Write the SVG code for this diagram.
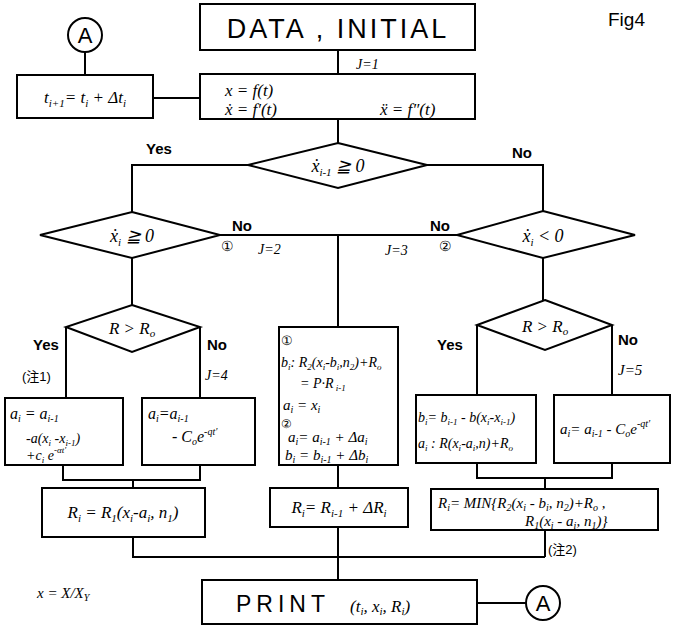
<svg xmlns="http://www.w3.org/2000/svg" width="678" height="629" viewBox="0 0 678 629">
<style>
.b{fill:#fff;stroke:#000;stroke-width:2}
.c{fill:none;stroke:#000;stroke-width:2}
.t{font-family:"Liberation Sans",Arial,sans-serif;fill:#000}
.m{font-family:"Liberation Serif","Times New Roman",serif;font-style:italic;fill:#000}
.j{font-family:"Liberation Sans","Noto Sans CJK JP",sans-serif;fill:#000}
</style>
<rect width="678" height="629" fill="#fff"/>
<g id="connectors">
<path class="c" d="M338 50V74M153 98H200M85 52V75M338 119V143M248 165H132V212M427 165H543V211M220 235H457M338 235V327M132 258V305M543 258V300M66 327V398M200 327V398M63 465V480H200V465M133 480V488M133 537V557H545M338 465V488M338 527V580M477 325V395M612 325V395M477 463V478H612V463M545 478V489M545 530V557M477 603H526"/>
</g>
<g id="data"><rect class="b" x="200" y="4" width="275" height="46"/><text class="t" x="338" y="38" font-size="27" text-anchor="middle" letter-spacing="3">DATA , INITIAL</text></g>
<text class="m" x="356" y="69" font-size="14">J=1</text>
<g id="calc"><rect class="b" x="200" y="74" width="275" height="45"/>
<text class="m" x="225" y="96" font-size="17">x = f(t)</text>
<text class="m" x="225" y="115" font-size="17">ẋ = f′(t)</text>
<text class="m" x="380" y="115" font-size="17">ẍ = f″(t)</text></g>
<g id="step"><rect class="b" x="17" y="75" width="136" height="43"/><text class="m" x="85" y="103" font-size="17" text-anchor="middle">t<tspan font-size="11" dy="4">i+1</tspan><tspan dy="-4">= t</tspan><tspan font-size="11" dy="4">i</tspan><tspan dy="-4"> + Δt</tspan><tspan font-size="11" dy="4">i</tspan></text></g>
<g id="circleA1"><circle class="b" cx="85" cy="35" r="17"/><text class="t" x="85" y="43" font-size="22" text-anchor="middle">A</text></g>
<g id="d1"><polygon class="b" points="338,143 427,165 338,188 248,165"/><text class="m" x="338" y="172" font-size="18" text-anchor="middle">ẋ<tspan font-size="11" dy="4">i-1</tspan><tspan dy="-4"> ≧ 0</tspan></text></g>
<text class="t" x="146" y="154" font-size="15" font-weight="bold">Yes</text>
<text class="t" x="512" y="158" font-size="15" font-weight="bold">No</text>
<g id="d2"><polygon class="b" points="132,212 220,235 132,258 40,235"/><text class="m" x="132" y="242" font-size="18" text-anchor="middle">ẋ<tspan font-size="11" dy="4">i</tspan><tspan dy="-4"> ≧ 0</tspan></text></g>
<text class="t" x="232" y="231" font-size="15" font-weight="bold">No</text>
<text class="t" x="221" y="251" font-size="14">①</text>
<text class="m" x="258" y="254" font-size="14">J=2</text>
<text class="m" x="385" y="255" font-size="14">J=3</text>
<text class="t" x="439" y="251" font-size="14">②</text>
<text class="t" x="430" y="231" font-size="15" font-weight="bold">No</text>
<g id="d3"><polygon class="b" points="543,211 635,235 543,258 457,235"/><text class="m" x="543" y="242" font-size="18" text-anchor="middle">ẋ<tspan font-size="11" dy="4">i</tspan><tspan dy="-4"> &lt; 0</tspan></text></g>
<g id="d4"><polygon class="b" points="132,305 200,327 132,352 66,327"/><text class="m" x="132" y="334" font-size="17" text-anchor="middle">R &gt; R<tspan font-size="11" dy="3">o</tspan></text></g>
<text class="t" x="33" y="350" font-size="15" font-weight="bold">Yes</text>
<text class="j" x="22" y="381" font-size="13">(注1)</text>
<text class="t" x="207" y="350" font-size="15" font-weight="bold">No</text>
<text class="m" x="205" y="380" font-size="14">J=4</text>
<g id="b4L"><rect class="b" x="5" y="398" width="118" height="67"/>
<text class="m" x="10" y="419" font-size="16">a<tspan font-size="10" dy="3">i</tspan><tspan dy="-3"> = a</tspan><tspan font-size="10" dy="3">i-1</tspan></text>
<text class="m" x="26" y="443" font-size="14">-a(x<tspan font-size="9" dy="3">i</tspan><tspan dy="-3"> -x</tspan><tspan font-size="9" dy="3">i-1</tspan><tspan dy="-3">)</tspan></text>
<text class="m" x="26" y="460" font-size="14">+c<tspan font-size="9" dy="3">i</tspan><tspan dy="-3"> e</tspan><tspan font-size="9" dy="-7">-αt′</tspan></text></g>
<g id="b4R"><rect class="b" x="142" y="398" width="113" height="67"/>
<text class="m" x="148" y="419" font-size="16">a<tspan font-size="10" dy="3">i</tspan><tspan dy="-3">=a</tspan><tspan font-size="10" dy="3">i-1</tspan></text>
<text class="m" x="172" y="442" font-size="16">- C<tspan font-size="10" dy="3">o</tspan><tspan dy="-3">e</tspan><tspan font-size="10" dy="-7">-qt′</tspan></text></g>
<g id="r1"><rect class="b" x="42" y="488" width="163" height="49"/><text class="m" x="123" y="518" font-size="17" text-anchor="middle">R<tspan font-size="11" dy="4">i</tspan><tspan dy="-4"> =  R</tspan><tspan font-size="11" dy="4">1</tspan><tspan dy="-4">(x</tspan><tspan font-size="11" dy="4">i</tspan><tspan dy="-4">-a</tspan><tspan font-size="11" dy="4">i</tspan><tspan dy="-4">, n</tspan><tspan font-size="11" dy="4">1</tspan><tspan dy="-4">)</tspan></text></g>
<g id="mid"><rect class="b" x="279" y="327" width="119" height="138"/>
<text class="t" x="281" y="345" font-size="13">①</text>
<text class="m" x="281" y="367" font-size="14">b<tspan font-size="9" dy="3">i</tspan><tspan dy="-3">: R</tspan><tspan font-size="9" dy="3">2</tspan><tspan dy="-3">(x</tspan><tspan font-size="9" dy="3">i</tspan><tspan dy="-3">-b</tspan><tspan font-size="9" dy="3">i</tspan><tspan dy="-3">,n</tspan><tspan font-size="9" dy="3">2</tspan><tspan dy="-3">)+R</tspan><tspan font-size="9" dy="3">o</tspan></text>
<text class="m" x="300" y="388" font-size="14">= P·R<tspan font-size="9" dy="3"> i-1</tspan></text>
<text class="m" x="283" y="410" font-size="15">a<tspan font-size="10" dy="3">i</tspan><tspan dy="-3"> = x</tspan><tspan font-size="10" dy="3">i</tspan></text>
<text class="t" x="281" y="428" font-size="12">②</text>
<text class="m" x="288" y="442" font-size="15">a<tspan font-size="10" dy="3">i</tspan><tspan dy="-3">= a</tspan><tspan font-size="10" dy="3">i-1</tspan><tspan dy="-3"> + Δa</tspan><tspan font-size="10" dy="3">i</tspan></text>
<text class="m" x="285" y="460" font-size="15">b<tspan font-size="10" dy="3">i</tspan><tspan dy="-3"> = b</tspan><tspan font-size="10" dy="3">i-1</tspan><tspan dy="-3"> + Δb</tspan><tspan font-size="10" dy="3">i</tspan></text></g>
<g id="r2"><rect class="b" x="270" y="488" width="138" height="39"/><text class="m" x="339" y="513" font-size="17" text-anchor="middle">R<tspan font-size="11" dy="4">i</tspan><tspan dy="-4">= R</tspan><tspan font-size="11" dy="4">i-1</tspan><tspan dy="-4"> + ΔR</tspan><tspan font-size="11" dy="4">i</tspan></text></g>
<g id="d5"><polygon class="b" points="545,300 612,325 545,350 477,325"/><text class="m" x="545" y="332" font-size="17" text-anchor="middle">R &gt; R<tspan font-size="11" dy="3">o</tspan></text></g>
<text class="t" x="437" y="350" font-size="15" font-weight="bold">Yes</text>
<text class="t" x="618" y="345" font-size="15" font-weight="bold">No</text>
<text class="m" x="618" y="375" font-size="15">J=5</text>
<g id="b5L"><rect class="b" x="416" y="395" width="120" height="68"/>
<text class="m" x="418" y="422" font-size="14">b<tspan font-size="9" dy="3">i</tspan><tspan dy="-3">= b</tspan><tspan font-size="9" dy="3">i-1</tspan><tspan dy="-3"> - b(x</tspan><tspan font-size="9" dy="3">i</tspan><tspan dy="-3">-x</tspan><tspan font-size="9" dy="3">i-1</tspan><tspan dy="-3">)</tspan></text>
<text class="m" x="418" y="448" font-size="14">a<tspan font-size="9" dy="3">i</tspan><tspan dy="-3"> : R(x</tspan><tspan font-size="9" dy="3">i</tspan><tspan dy="-3">-a</tspan><tspan font-size="9" dy="3">i</tspan><tspan dy="-3">,n)+R</tspan><tspan font-size="9" dy="3">o</tspan></text></g>
<g id="b5R"><rect class="b" x="554" y="395" width="116" height="68"/>
<text class="m" x="560" y="434" font-size="15">a<tspan font-size="10" dy="3">i</tspan><tspan dy="-3">= a</tspan><tspan font-size="10" dy="3">i-1</tspan><tspan dy="-3"> - C</tspan><tspan font-size="10" dy="3">o</tspan><tspan dy="-3">e</tspan><tspan font-size="10" dy="-7">-qt′</tspan></text></g>
<g id="r3"><rect class="b" x="431" y="489" width="227" height="41"/>
<text class="m" x="438" y="508" font-size="15">R<tspan font-size="10" dy="3">i</tspan><tspan dy="-3">= MIN{R</tspan><tspan font-size="10" dy="3">2</tspan><tspan dy="-3">(x</tspan><tspan font-size="10" dy="3">i</tspan><tspan dy="-3"> - b</tspan><tspan font-size="10" dy="3">i</tspan><tspan dy="-3">, n</tspan><tspan font-size="10" dy="3">2</tspan><tspan dy="-3">)+R</tspan><tspan font-size="10" dy="3">o</tspan><tspan dy="-3"> ,</tspan></text>
<text class="m" x="525" y="526" font-size="15">R<tspan font-size="10" dy="3">1</tspan><tspan dy="-3">(x</tspan><tspan font-size="10" dy="3">i</tspan><tspan dy="-3"> - a</tspan><tspan font-size="10" dy="3">i</tspan><tspan dy="-3">, n</tspan><tspan font-size="10" dy="3">1</tspan><tspan dy="-3">)}</tspan></text></g>
<text class="j" x="548" y="554" font-size="13">(注2)</text>
<g id="print"><rect class="b" x="202" y="580" width="275" height="44"/>
<text class="t" x="236" y="612" font-size="23" letter-spacing="5">PRINT</text>
<text class="m" x="350" y="612" font-size="17">(t<tspan font-size="11" dy="3">i</tspan><tspan dy="-3">, x</tspan><tspan font-size="11" dy="3">i</tspan><tspan dy="-3">, R</tspan><tspan font-size="11" dy="3">i</tspan><tspan dy="-3">)</tspan></text></g>
<g id="circleA2"><circle class="b" cx="543" cy="603" r="17"/><text class="t" x="543" y="611" font-size="22" text-anchor="middle">A</text></g>
<text class="m" x="37" y="598" font-size="15">x = X/X<tspan font-size="10" dy="3">Y</tspan></text>
<text class="t" x="608" y="26" font-size="19">Fig4</text>
</svg>
